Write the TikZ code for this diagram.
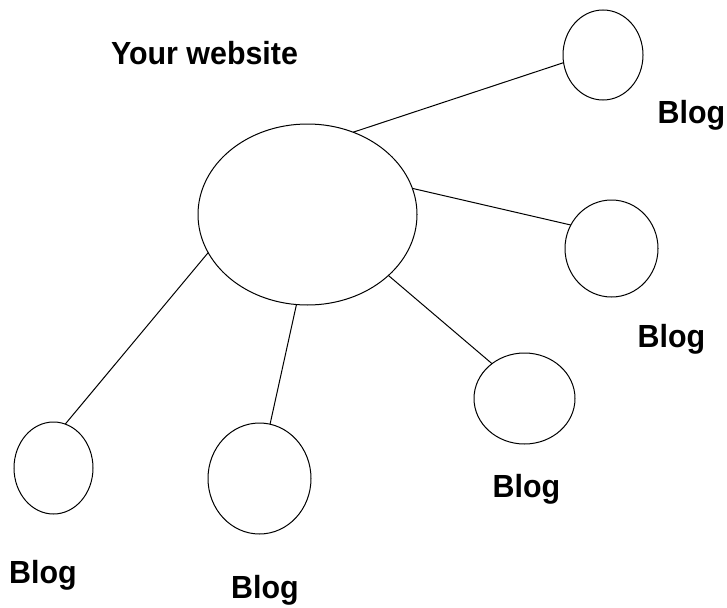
\documentclass[tikz,border=0pt]{standalone}
\usepackage{fontspec}
\setmainfont{Liberation Sans}
\usetikzlibrary{shapes.geometric}
\begin{document}
\begin{tikzpicture}[x=1pt,y=-1pt,
  bubble/.style={draw=black,line width=1pt,ellipse,inner sep=0pt,outer sep=0pt},
  lbl/.style={anchor=base,inner sep=0pt,font=\fontsize{32}{38}\selectfont\bfseries,xscale=0.95},
  link/.style={draw=black,line width=1pt}]
\useasboundingbox (0,0) rectangle (727,607);
\node[bubble,minimum width=219pt,minimum height=181pt] (c) at (307.5,214.5) {};
\node[bubble,minimum width=80pt,minimum height=90pt] (b1) at (603,55) {};
\node[bubble,minimum width=93pt,minimum height=97pt] (b2) at (611.5,248.5) {};
\node[bubble,minimum width=101pt,minimum height=91pt] (b3) at (524.5,398.5) {};
\node[bubble,minimum width=79pt,minimum height=92pt] (b4) at (53.5,468) {};
\node[bubble,minimum width=103pt,minimum height=111pt] (b5) at (259.5,478.5) {};
\node[lbl] (tw) at (204.5,65) {Your website};
\node[lbl] (t1) at (691.5,123) {Blog};
\node[lbl] (t2) at (671.5,347) {Blog};
\node[lbl] (t3) at (526.5,497) {Blog};
\node[lbl] (t4) at (43,583) {Blog};
\node[lbl] (t5) at (265,598) {Blog};
\draw[link] (c.61.4) -- (b1.191.6);
\draw[link] (c.14.5) -- (b2.150.1);
\draw[link] (c.-37.8) -- (b3.133.3);
\draw[link] (c.263.3) -- (b5.79.1);
\draw[link] (c.201.2) -- (b4.75.7);
\end{tikzpicture}
\end{document}
